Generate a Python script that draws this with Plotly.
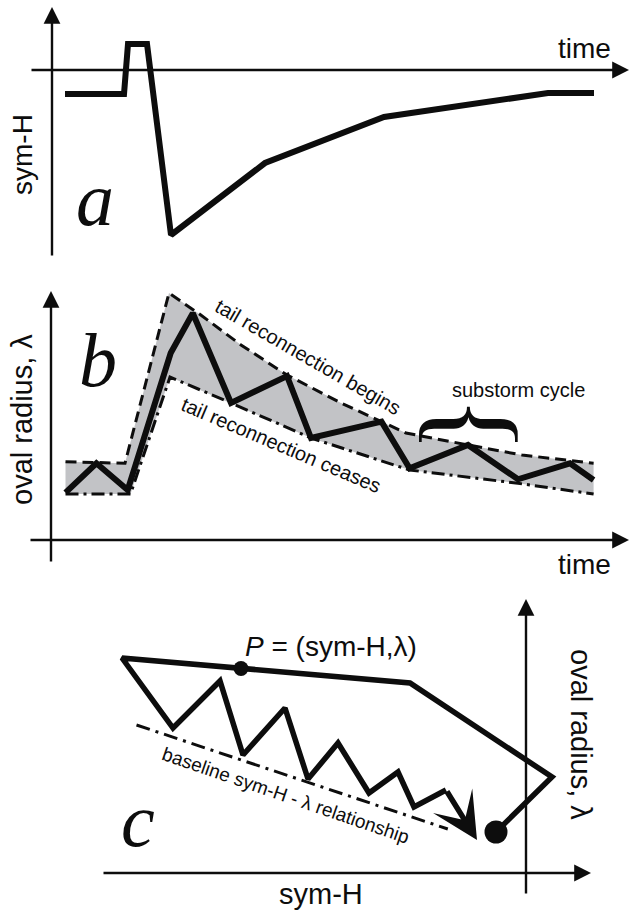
import plotly.graph_objects as go

# ---------------- data (schematic units) ----------------
# panel a: sym-H vs time
time_a = [1.3, 7.2, 7.6, 9.5, 11.9, 21.3, 33.2, 49.6, 54.2]
symh_a = [-24, -24, 26, 26, -165, -93, -47, -23, -23]

# panel b: oval radius lambda vs time
time_b = [1.45, 4.54, 7.67, 11.97, 14.18, 18.0, 23.6, 26.0, 33.05, 35.86, 41.7, 46.7, 51.9, 54.26]
lam_b = [4.73, 7.67, 5.0, 18.7, 22.67, 13.7, 16.4, 10.2, 11.83, 7.17, 9.5, 6.07, 7.67, 6.0]
# envelope: tail reconnection begins (upper)
time_up = [1.45, 7.4, 11.8, 14.98, 19.0, 23.6, 29.0, 35.5, 41.7, 47.1, 54.26]
lam_up = [7.83, 7.67, 24.7, 22.5, 19.5, 16.5, 13.7, 10.7, 9.5, 8.5, 7.67]
# envelope: tail reconnection ceases (lower)
time_lo = [1.45, 7.95, 11.9, 18.0, 26.0, 35.86, 46.7, 54.26]
lam_lo = [4.6, 4.6, 16.3, 13.7, 10.2, 7.0, 5.67, 4.6]

# panel c: trajectory in (sym-H, lambda) space
symh_c = [-30, 26, -116, -404, -353, -306, -283, -241, -218, -188, -157, -128, -112, -80]
lam_c = [4.1, 9.6, 19.0, 21.5, 14.5, 19.2, 11.8, 16.5, 9.4, 13.0, 8.0, 10.1, 6.6, 8.3]
arrow_tip_c = (-49, 3.3)
point_P = (-285, 20.45)
start_dot = (-30, 4.1)
baseline_symh = [-389.5, -78.2]
baseline_lam = [14.8, 4.4]

# axis extents (tail, tip) per panel
axes_a = {"x": ((-2.2, 0), (57.7, 0)), "y": ((0, -187), (0, 63))}
axes_b = {"x": ((-2.2, 0), (57.8, 0)), "y": ((0, -2.3), (0, 24.9))}
axes_c = {"x": ((-424, 0), (65, 0)), "y": ((0, -2.2), (0, 27.4))}

INK = "#0d0d0d"
GRAY = "#c2c3c6"
SANS = "Liberation Sans, Arial, sans-serif"
SERIF = "Liberation Serif, Times New Roman, serif"

fig = go.Figure()

# panel a
fig.add_trace(go.Scatter(x=time_a, y=symh_a, mode="lines",
                         line=dict(color=INK, width=6), xaxis="x", yaxis="y"))

# panel b
fig.add_trace(go.Scatter(x=time_up + time_lo[::-1], y=lam_up + lam_lo[::-1],
                         mode="lines", fill="toself", fillcolor=GRAY,
                         line=dict(width=0), xaxis="x2", yaxis="y2"))
fig.add_trace(go.Scatter(x=time_up, y=lam_up, mode="lines",
                         line=dict(color=INK, width=3, dash="11px,6px"),
                         xaxis="x2", yaxis="y2"))
fig.add_trace(go.Scatter(x=time_lo, y=lam_lo, mode="lines",
                         line=dict(color=INK, width=3, dash="13px,5px,3px,5px"),
                         xaxis="x2", yaxis="y2"))
fig.add_trace(go.Scatter(x=time_b, y=lam_b, mode="lines",
                         line=dict(color=INK, width=6), xaxis="x2", yaxis="y2"))

# panel c
fig.add_trace(go.Scatter(x=baseline_symh, y=baseline_lam, mode="lines",
                         line=dict(color=INK, width=3, dash="14px,6px,3px,6px"),
                         xaxis="x3", yaxis="y3"))
fig.add_trace(go.Scatter(x=symh_c, y=lam_c, mode="lines",
                         line=dict(color=INK, width=5.5), xaxis="x3", yaxis="y3"))
fig.add_trace(go.Scatter(x=[point_P[0]], y=[point_P[1]], mode="markers",
                         marker=dict(color=INK, size=15), xaxis="x3", yaxis="y3"))
fig.add_trace(go.Scatter(x=[start_dot[0]], y=[start_dot[1]], mode="markers",
                         marker=dict(color=INK, size=23), xaxis="x3", yaxis="y3"))

ann = []


def axis_arrow(tail, tip, xr, yr):
    ann.append(dict(x=tip[0], y=tip[1], ax=tail[0], ay=tail[1], xref=xr, yref=yr,
                    axref=xr, ayref=yr, text="", showarrow=True, arrowhead=2,
                    arrowsize=1.4, arrowwidth=2.4, arrowcolor=INK, standoff=0))


for axd, xr, yr in [(axes_a, "x", "y"), (axes_b, "x2", "y2"), (axes_c, "x3", "y3")]:
    for k in ("x", "y"):
        axis_arrow(axd[k][0], axd[k][1], xr, yr)

# arrow at end of recovery zig-zag
ann.append(dict(x=arrow_tip_c[0], y=arrow_tip_c[1], ax=symh_c[-1], ay=lam_c[-1],
                xref="x3", yref="y3", axref="x3", ayref="y3", text="", showarrow=True,
                arrowhead=3, arrowsize=1.4, arrowwidth=5.5, arrowcolor=INK, standoff=0))


def label(x, y, text, xr, yr, size, angle=0, family=SANS):
    ann.append(dict(x=x, y=y, xref=xr, yref=yr, text=text, showarrow=False,
                    textangle=angle, xanchor="center", yanchor="middle",
                    font=dict(family=family, size=size, color=INK)))


# panel a labels
label(53.2, 22, "time", "x", "y", 28)
label(-3.0, -85, "sym-H", "x", "y", 28, -90)
label(4.3, -129, "<i>a</i>", "x", "y", 76, family=SERIF)

# panel b labels
label(53.3, -2.4, "time", "x2", "y2", 28)
label(-2.9, 12.0, "oval radius, λ", "x2", "y2", 29, -90)
label(4.7, 18.0, "<i>b</i>", "x2", "y2", 76, family=SERIF)
label(25.7, 18.3, "tail reconnection begins", "x2", "y2", 20, 30)
label(23.0, 9.5, "tail reconnection ceases", "x2", "y2", 20, 23)
label(46.7, 15.0, "substorm cycle", "x2", "y2", 20)
label(42.4, 11.6, "{", "x2", "y2", 118, 90, family=SERIF)

# panel c labels
label(-205, -2.1, "sym-H", "x3", "y3", 29)
label(55, 13.9, "oval radius, λ", "x3", "y3", 29, 90)
label(-195, 22.7, "<i>P</i> = (sym-H,λ)", "x3", "y3", 28)
label(-388, 5.3, "<i>c</i>", "x3", "y3", 76, family=SERIF)
label(-240, 7.8, "baseline sym-H - λ relationship", "x3", "y3", 19, 19)

hid = dict(visible=False, fixedrange=True)
fig.update_layout(
    width=630, height=910, margin=dict(l=0, r=0, t=0, b=0),
    paper_bgcolor="white", plot_bgcolor="white", showlegend=False,
    xaxis=dict(domain=[0, 1], range=[-5.2, 57.8], anchor="y", **hid),
    yaxis=dict(domain=[1 - 260 / 910, 1], range=[-190, 70], anchor="x", **hid),
    xaxis2=dict(domain=[0, 1], range=[-5.1, 57.9], anchor="y2", **hid),
    yaxis2=dict(domain=[1 - 590 / 910, 1 - 270 / 910], range=[-5, 27], anchor="x2", **hid),
    xaxis3=dict(domain=[0, 1], range=[-526, 104], anchor="y3", **hid),
    yaxis3=dict(domain=[0, 1 - 590 / 910], range=[-3.7, 28.3], anchor="x3", **hid),
    annotations=ann,
)

fig.write_html("out.html")
